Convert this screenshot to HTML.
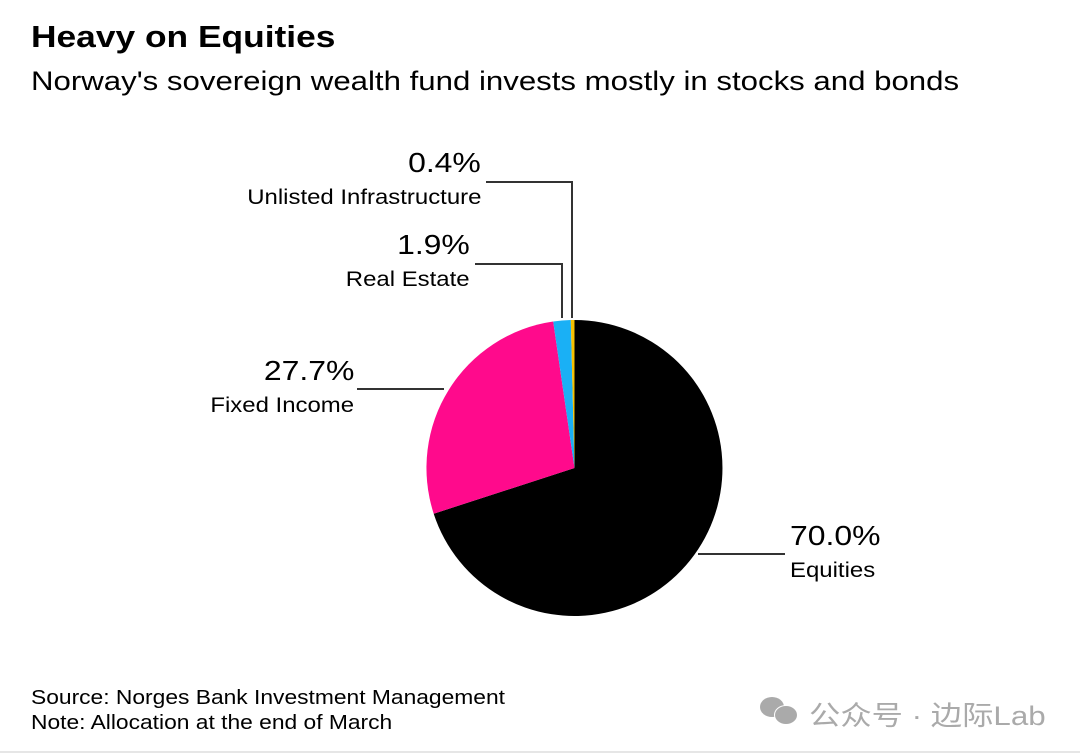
<!DOCTYPE html>
<html><head><style>
body{margin:0;width:1080px;height:755px;background:#fff;font-family:"Liberation Sans",sans-serif;position:relative;overflow:hidden;color:#000}
.a{position:absolute;white-space:nowrap}
.l{transform:scaleX(1.14);transform-origin:left center}
.r{transform:scaleX(1.14);transform-origin:right center}
</style></head><body>
<div class="a l" style="left:31px;top:19px;font-size:31px;font-weight:bold">Heavy on Equities</div>
<div class="a" style="left:31px;top:66px;font-size:27px;transform:scaleX(1.155);transform-origin:left center">Norway's sovereign wealth fund invests mostly in stocks and bonds</div>
<svg class="a" style="left:0;top:0" width="1080" height="755">
<path d="M574.5,468 L574.5,320 A148,148 0 1 1 433.7,513.7 Z" fill="#000"/>
<path d="M574.5,468 L433.7,513.7 A148,148 0 0 1 553.2,321.5 Z" fill="#ff0a8c"/>
<path d="M574.5,468 L553.2,321.5 A148,148 0 0 1 570.8,320 Z" fill="#1ab0f5"/>
<path d="M574.5,468 L570.8,320 A148,148 0 0 1 574.5,320 Z" fill="#f5c000"/>
<g stroke="#333" stroke-width="2" fill="none">
<polyline points="486,182 572,182 572,318"/>
<polyline points="475,264 562,264 562,318"/>
<line x1="357" y1="389" x2="444" y2="389"/>
<line x1="698" y1="554" x2="785" y2="554"/>
</g>
<line x1="0" y1="752" x2="1080" y2="752" stroke="#ccc" stroke-width="1"/>
</svg>
<div class="a r" style="right:599px;top:147px;font-size:28px">0.4%</div>
<div class="a r" style="right:599px;top:186px;font-size:21px">Unlisted Infrastructure</div>
<div class="a r" style="right:610px;top:229px;font-size:28px">1.9%</div>
<div class="a r" style="right:610px;top:268px;font-size:21px">Real Estate</div>
<div class="a r" style="right:726px;top:355px;font-size:28px">27.7%</div>
<div class="a r" style="right:726px;top:394px;font-size:21px">Fixed Income</div>
<div class="a l" style="left:790px;top:520px;font-size:28px">70.0%</div>
<div class="a l" style="left:790px;top:559px;font-size:21px">Equities</div>
<div class="a l" style="left:31px;top:687px;font-size:20px">Source: Norges Bank Investment Management</div>
<div class="a l" style="left:31px;top:712px;font-size:20px">Note: Allocation at the end of March</div>
<div class="a" style="left:760px;top:695px;width:40px;height:32px">
<div class="a" style="left:0;top:2px;width:24px;height:20px;border-radius:50%;background:#aaa"></div>
<div class="a" style="left:14px;top:10px;width:22px;height:18px;border-radius:50%;background:#aaa;border:1px solid #fff"></div>
</div>
<div class="a" style="left:809px;top:694px;font-size:27px;color:#aaa;font-family:'Liberation Sans','Noto Sans CJK SC',sans-serif;transform:scaleX(1.16);transform-origin:left center">公众号 · 边际Lab</div>
</body></html>
